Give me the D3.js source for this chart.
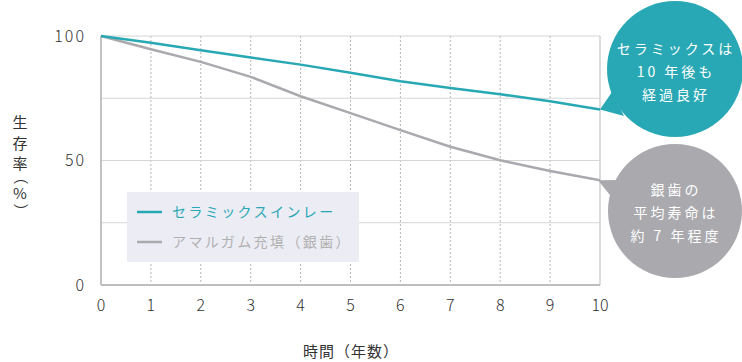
<!DOCTYPE html>
<html>
<head>
<meta charset="utf-8">
<script src="https://cdn.jsdelivr.net/npm/d3@7"></script>
<style>
  body { margin: 0; background: #fff; }
  svg text { font-family: "Noto Sans CJK JP", "Noto Sans", sans-serif; }
</style>
</head>
<body>
<div id="chart"></div>
<script>
let years = [0, 1, 2, 3, 4, 5, 6, 7, 8, 9, 10]
let ceramic = [100, 97.3, 94.3, 91.4, 88.5, 85.2, 81.8, 79.1, 76.6, 73.8, 70.5]
let amalgam = [100, 94.7, 89.6, 83.6, 75.8, 69, 62.2, 55.5, 50.1, 45.8, 42.1]
let seriesNames = ['セラミックスインレー', 'アマルガム充填（銀歯）']
let yTicks = [0, 50, 100]
let yGrid = [25, 50, 75, 100]
let yTitle = ['生', '存', '率', '（', '%', '）']
let bubble1 = ['セラミックスは', '10 年後も', '経過良好']
let bubble2 = ['銀歯の', '平均寿命は', '約 7 年程度']

let teal = '#28a8b4'
let gray = '#a9a9ae'

let width = 742
let height = 362
let margin = { top: 36, left: 101, right: 142, bottom: 77 }

let svg = d3.select('#chart').append('svg')
  .attr('width', width)
  .attr('height', height)

let x = d3.scaleLinear().domain([0, 10]).range([margin.left, width - margin.right])
let y = d3.scaleLinear().domain([0, 100]).range([height - margin.bottom, margin.top])

// vertical dashed grid
svg.selectAll('.vgrid')
  .data(years.filter(d => d > 0 && d < 10))
  .enter().append('line')
  .attr('x1', d => x(d)).attr('x2', d => x(d))
  .attr('y1', y(100)).attr('y2', y(0))
  .attr('stroke', '#b5b5b5')
  .attr('stroke-dasharray', '2,2')

// horizontal grid
svg.selectAll('.hgrid')
  .data(yGrid)
  .enter().append('line')
  .attr('x1', x(0)).attr('x2', x(10))
  .attr('y1', d => y(d)).attr('y2', d => y(d))
  .attr('stroke', '#d6d6d6')
  .attr('stroke-width', 1.2)

// frame
svg.append('line')
  .attr('x1', x(10)).attr('x2', x(10))
  .attr('y1', y(100)).attr('y2', y(0))
  .attr('stroke', '#d0d0d0').attr('stroke-width', 1.5)
svg.append('line')
  .attr('x1', x(0)).attr('x2', x(0))
  .attr('y1', y(100)).attr('y2', y(0))
  .attr('stroke', '#bdbdbd').attr('stroke-width', 1.8)
svg.append('line')
  .attr('x1', x(0)).attr('x2', x(10))
  .attr('y1', y(0)).attr('y2', y(0))
  .attr('stroke', '#bdbdbd').attr('stroke-width', 1.8)

// legend
let legend = svg.append('g').attr('transform', 'translate(127,192)')
legend.append('rect')
  .attr('width', 232).attr('height', 70)
  .attr('fill', '#ececf4')
let legendColors = [teal, '#b0b0b0']
seriesNames.forEach((name, i) => {
  legend.append('line')
    .attr('x1', 10).attr('x2', 35)
    .attr('y1', 20 + i * 30).attr('y2', 20 + i * 30)
    .attr('stroke', i === 0 ? teal : gray)
    .attr('stroke-width', 2.5)
  legend.append('text')
    .attr('x', 45).attr('y', 20 + i * 30)
    .attr('dy', '0.35em')
    .attr('font-size', 14)
    .attr('letter-spacing', 2.4)
    .attr('fill', legendColors[i])
    .text(name)
})

// lines
let line = d3.line()
  .x((d, i) => x(years[i]))
  .y(d => y(d))

svg.append('path')
  .datum(amalgam)
  .attr('d', line)
  .attr('fill', 'none')
  .attr('stroke', gray)
  .attr('stroke-width', 2.5)

svg.append('path')
  .datum(ceramic)
  .attr('d', line)
  .attr('fill', 'none')
  .attr('stroke', teal)
  .attr('stroke-width', 2.5)

// tick labels
svg.selectAll('.ytick')
  .data(yTicks)
  .enter().append('text')
  .attr('x', 86)
  .attr('y', d => y(d))
  .attr('dy', '0.35em')
  .attr('text-anchor', 'end')
  .attr('font-family', 'Lato')
  .attr('font-weight', 300)
  .attr('font-size', 16)
  .attr('letter-spacing', 2)
  .attr('fill', '#333')
  .text(d => d)

svg.selectAll('.xtick')
  .data(years)
  .enter().append('text')
  .attr('x', d => x(d))
  .attr('y', 305)
  .attr('dy', '0.35em')
  .attr('text-anchor', 'middle')
  .attr('font-family', 'Lato')
  .attr('font-weight', 300)
  .attr('font-size', 16)
  .attr('fill', '#333')
  .text(d => d)

// axis titles
svg.append('text')
  .attr('x', 351).attr('y', 352)
  .attr('dy', '0.35em')
  .attr('text-anchor', 'middle')
  .attr('font-size', 15)
  .attr('letter-spacing', 1)
  .attr('fill', '#333')
  .text('時間（年数）')

// vertical y title, one character per row, brackets turned
let titleY = [123, 144, 164, 177, 194, 211]
svg.selectAll('.ytitle')
  .data(yTitle)
  .enter().append('text')
  .attr('x', 20)
  .attr('y', (d, i) => titleY[i])
  .attr('dy', '0.35em')
  .attr('text-anchor', 'middle')
  .attr('font-size', 15)
  .attr('fill', '#333')
  .attr('transform', (d, i) => (d === '（' || d === '）') ? `rotate(90,20,${titleY[i]})` : null)
  .text(d => d)

// bubbles
function bubble(cx, cy, r, tip, base1, base2, color, lines, lineY) {
  let g = svg.append('g')
  g.append('path')
    .attr('d', `M${base1[0]},${base1[1]}L${tip[0]},${tip[1]}L${base2[0]},${base2[1]}Z`)
    .attr('fill', color)
  g.append('circle')
    .attr('cx', cx).attr('cy', cy).attr('r', r)
    .attr('fill', color)
  g.selectAll('text')
    .data(lines)
    .enter().append('text')
    .attr('x', cx + 1)
    .attr('y', (d, i) => lineY + i * 23)
    .attr('dy', '0.35em')
    .attr('text-anchor', 'middle')
    .attr('font-size', 14)
    .attr('letter-spacing', 3)
    .attr('fill', '#fff')
    .text(d => d)
}

bubble(675, 69, 68, [x(10), y(ceramic[10])], [612, 92], [624, 116], teal, bubble1, 49)
bubble(675, 211, 67, [x(10) - 2, y(amalgam[10])], [620, 180], [614, 200], gray, bubble2, 190)
</script>
</body>
</html>
